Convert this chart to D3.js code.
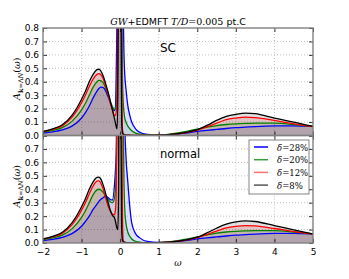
<!DOCTYPE html>
<html>
<head>
    <meta charset="utf-8">
    <script src="https://d3js.org/d3.v7.min.js"></script>
    <style>
        body { margin: 0; background: #fff; font-family: "DejaVu Sans", sans-serif; }
        .tick text { font: 9px "DejaVu Sans", sans-serif; fill: #000; }
        .tick line { stroke: #000; stroke-width: 0.8; }
        .grid line { stroke: #b0b0b0; stroke-width: 0.8; stroke-dasharray: 1,2; }
    </style>
</head>
<body>
<script>
// frequency grid (shared by every curve)
const omega = [-2, -1.75, -1.5, -1.25, -1.0,
    -0.9, -0.8, -0.7, -0.6, -0.55,
    -0.5, -0.45, -0.4, -0.35, -0.3,
    -0.25, -0.2, -0.15, -0.12, -0.1,
    -0.08, -0.06, -0.04, -0.02, 0,
    0.02, 0.04, 0.06, 0.08, 0.1,
    0.12, 0.15, 0.2, 0.25, 0.3,
    0.4, 0.5, 0.7, 1.0,
    1.5, 1.75, 2.0, 2.25, 2.5,
    2.75, 3.0, 3.25, 3.5, 4.0,
    4.5, 5.0];

// superconducting panel
const scBlue = [0.017, 0.027, 0.042, 0.07, 0.13,
    0.17, 0.22, 0.28, 0.33, 0.35,
    0.36, 0.358, 0.345, 0.315, 0.28,
    0.24, 0.205, 0.185, 0.22, 0.5,
    1.0, 2.5, 3, 3, 3,
    3, 2.5, 2.0, 1.0, 0.6,
    0.45, 0.35, 0.22, 0.15, 0.1,
    0.05, 0.025, 0.008, 0.003,
    0.012, 0.02, 0.03, 0.038, 0.045,
    0.052, 0.058, 0.062, 0.066, 0.071,
    0.072, 0.068];
const scGreen = [0.024, 0.038, 0.058, 0.105, 0.19,
    0.24, 0.3, 0.36, 0.40, 0.41,
    0.408, 0.395, 0.37, 0.335, 0.295,
    0.25, 0.215, 0.195, 0.2, 0.23,
    0.32, 0.6, 1.5, 3, 3,
    2.5, 1.2, 0.45, 0.25, 0.17,
    0.13, 0.1, 0.07, 0.05, 0.035,
    0.018, 0.01, 0.004, 0.004,
    0.02, 0.033, 0.048, 0.062, 0.074,
    0.082, 0.087, 0.09, 0.092, 0.092,
    0.082, 0.068];
const scRed = [0.028, 0.045, 0.072, 0.135, 0.245,
    0.3, 0.365, 0.42, 0.455, 0.46,
    0.452, 0.43, 0.39, 0.345, 0.295,
    0.24, 0.19, 0.15, 0.15, 0.18,
    0.3, 1.0, 3, 3, 3,
    2.5, 0.6, 0.05, 0.015, 0.008,
    0.005, 0.004, 0.003, 0.002, 0.002,
    0.001, 0.001, 0.001, 0.002,
    0.013, 0.024, 0.04, 0.065, 0.092,
    0.118, 0.13, 0.137, 0.133, 0.112,
    0.087, 0.067];
const scBlack = [0.03, 0.05, 0.08, 0.15, 0.27,
    0.33, 0.40, 0.455, 0.49, 0.493,
    0.48, 0.45, 0.41, 0.36, 0.31,
    0.25, 0.19, 0.13, 0.09, 0.065,
    0.05, 0.3, 1.5, 4, 4,
    1.0, 0.1, 0.02, 0.01, 0.005,
    0.004, 0.003, 0.002, 0.002, 0.001,
    0.001, 0.001, 0.001, 0.002,
    0.013, 0.025, 0.043, 0.075, 0.112,
    0.142, 0.158, 0.167, 0.163, 0.13,
    0.1, 0.067];

// normal panel
const nmBlue = [0.017, 0.027, 0.042, 0.07, 0.125,
    0.16, 0.2, 0.25, 0.29, 0.31,
    0.325, 0.335, 0.345, 0.345, 0.335,
    0.322, 0.32, 0.42, 0.55, 0.7,
    1.2, 2.5, 3, 3, 3,
    3, 3, 3, 2.5, 1.5,
    0.9, 0.65, 0.45, 0.27, 0.15,
    0.07, 0.04, 0.012, 0.004,
    0.012, 0.02, 0.03, 0.038, 0.045,
    0.052, 0.058, 0.062, 0.066, 0.071,
    0.072, 0.068];
const nmGreen = [0.024, 0.038, 0.058, 0.105, 0.19,
    0.24, 0.3, 0.36, 0.395, 0.40,
    0.395, 0.38, 0.36, 0.34, 0.32,
    0.305, 0.3, 0.33, 0.4, 0.55,
    1.0, 2.5, 3, 3, 3,
    3, 2.5, 1.5, 0.9, 0.45,
    0.25, 0.15, 0.08, 0.05, 0.03,
    0.013, 0.007, 0.003, 0.003,
    0.018, 0.03, 0.045, 0.06, 0.073,
    0.082, 0.087, 0.09, 0.092, 0.092,
    0.082, 0.068];
const nmRed = [0.028, 0.045, 0.072, 0.135, 0.245,
    0.3, 0.365, 0.425, 0.46, 0.462,
    0.445, 0.41, 0.36, 0.31, 0.265,
    0.235, 0.215, 0.21, 0.25, 0.4,
    1.2, 3, 3, 3, 3,
    3, 1.5, 0.2, 0.02, 0.01,
    0.005, 0.004, 0.003, 0.002, 0.002,
    0.001, 0.001, 0.001, 0.002,
    0.013, 0.024, 0.04, 0.063, 0.088,
    0.112, 0.124, 0.13, 0.127, 0.108,
    0.085, 0.067];
const nmBlack = [0.03, 0.05, 0.08, 0.15, 0.27,
    0.33, 0.40, 0.455, 0.488, 0.49,
    0.475, 0.44, 0.395, 0.34, 0.29,
    0.24, 0.205, 0.19, 0.16, 0.13,
    0.11, 0.1, 0.4, 2.5, 4,
    1.0, 0.1, 0.02, 0.01, 0.005,
    0.004, 0.003, 0.002, 0.002, 0.001,
    0.001, 0.001, 0.001, 0.002,
    0.013, 0.025, 0.043, 0.075, 0.11,
    0.14, 0.157, 0.164, 0.16, 0.13,
    0.098, 0.067];

const dopings = ["28%", "20%", "12%", "8%"];
const colors = ["#0000ff", "#008000", "#ff0000", "#000000"];
const legendColors = ["#0000ff", "#3a9a3a", "#ff7070", "#555555"];
const xTicks = [-2, -1, 0, 1, 2, 3, 4, 5];
const yTicks = [0, 0.1, 0.2, 0.3, 0.4, 0.5, 0.6, 0.7, 0.8];

const W = 349, H = 279;
const left = 43, right = 313;
const svg = d3.select("body").append("svg")
    .attr("width", W).attr("height", H);

const x = d3.scaleLinear().domain([-2, 5]).range([left, right]);

function drawPanel(id, top, bottom, series, label, showX, yLabels) {
    const y = d3.scaleLinear().domain([0, 0.8]).range([bottom, top]);
    const g = svg.append("g");

    svg.append("clipPath").attr("id", id)
        .append("rect").attr("x", left).attr("y", top)
        .attr("width", right - left).attr("height", bottom - top);

    // grid
    const grid = g.append("g").attr("class", "grid");
    grid.selectAll("line.v").data(xTicks.slice(1, -1)).enter().append("line")
        .attr("x1", d => x(d)).attr("x2", d => x(d))
        .attr("y1", top).attr("y2", bottom);
    grid.selectAll("line.h").data(yTicks.slice(1, -1)).enter().append("line")
        .attr("x1", left).attr("x2", right)
        .attr("y1", d => y(d)).attr("y2", d => y(d));

    const area = d3.area().curve(d3.curveMonotoneX)
        .x((d, i) => x(omega[i])).y0(y(0)).y1(d => y(d));
    const line = d3.line().curve(d3.curveMonotoneX)
        .x((d, i) => x(omega[i])).y(d => y(d));

    const plot = g.append("g").attr("clip-path", `url(#${id})`);
    series.forEach((s, k) => {
        plot.append("path").attr("d", area(s))
            .attr("fill", colors[k]).attr("fill-opacity", 0.12);
    });
    series.forEach((s, k) => {
        plot.append("path").attr("d", line(s))
            .attr("fill", "none").attr("stroke", colors[k])
            .attr("stroke-width", 1.3);
    });

    // ticks (inward, all four sides)
    const la = g.append("g").attr("transform", `translate(${left},0)`)
        .call(d3.axisLeft(y).tickValues(yTicks).tickSize(-4).tickPadding(4)
            .tickFormat(d => yLabels.includes(d) ? d3.format(".1f")(d) : ""));
    g.append("g").attr("transform", `translate(${right},0)`)
        .call(d3.axisRight(y).tickValues(yTicks).tickSize(-4).tickFormat(""));
    const ba = g.append("g").attr("transform", `translate(0,${bottom})`)
        .call(d3.axisBottom(x).tickValues(xTicks).tickSize(-4).tickPadding(6)
            .tickFormat(showX ? d3.format("d") : ""));
    g.append("g").attr("transform", `translate(0,${top})`)
        .call(d3.axisTop(x).tickValues(xTicks).tickSize(-4).tickFormat(""));
    g.selectAll(".domain").remove();

    g.append("rect").attr("x", left).attr("y", top)
        .attr("width", right - left).attr("height", bottom - top)
        .attr("fill", "none").attr("stroke", "#808080").attr("stroke-width", 1.4);

    g.append("text").attr("x", 160).attr("y", label.y)
        .style("font", `${label.size}px 'DejaVu Sans', sans-serif`)
        .text(label.text);

    // y axis label
    const t = g.append("text")
        .attr("transform", `translate(20,${(top + bottom) / 2 - 3}) rotate(-90)`)
        .attr("text-anchor", "middle")
        .style("font-family", "'DejaVu Serif', serif").style("font-size", "9.5px");
    t.append("tspan").style("font-style", "italic").text("A");
    t.append("tspan").attr("dy", 2.5).style("font-size", "6.5px")
        .style("font-weight", "bold").text("k");
    t.append("tspan").style("font-size", "6.5px").text("=Λ");
    t.append("tspan").style("font-size", "6.5px").style("font-style", "italic").text("N");
    t.append("tspan").attr("dy", -2.5).text("(");
    t.append("tspan").style("font-style", "italic").text("ω");
    t.append("tspan").text(")");
    return y;
}

drawPanel("clipSC", 28, 135.5, [scBlue, scGreen, scRed, scBlack],
    { text: "SC", y: 52, size: 12 }, false, yTicks);
drawPanel("clipNM", 135.5, 243, [nmBlue, nmGreen, nmRed, nmBlack],
    { text: "normal", y: 158, size: 11.5 }, true, yTicks.slice(0, -1));

// title
const title = svg.append("text").attr("x", (left + right) / 2).attr("y", 25)
    .attr("text-anchor", "middle").style("font-size", "9.5px");
title.append("tspan").style("font-family", "'DejaVu Serif', serif")
    .style("font-style", "italic").text("GW");
title.append("tspan").style("font-family", "'DejaVu Sans', sans-serif").text("+EDMFT ");
title.append("tspan").style("font-family", "'DejaVu Serif', serif")
    .style("font-style", "italic").text("T/D");
title.append("tspan").style("font-family", "'DejaVu Serif', serif").text("=0.005");
title.append("tspan").style("font-family", "'DejaVu Sans', sans-serif").text(" pt.C");

// x label
svg.append("text").attr("x", (left + right) / 2).attr("y", 266)
    .attr("text-anchor", "middle")
    .style("font", "italic 9px 'DejaVu Serif', serif").text("ω");

// legend
const lg = svg.append("g");
lg.append("rect").attr("x", 249).attr("y", 140).attr("width", 60).attr("height", 54)
    .attr("fill", "#fff").attr("stroke", "#666").attr("stroke-width", 0.8);
dopings.forEach((d, i) => {
    const yy = 147 + i * 12.7;
    lg.append("line").attr("x1", 254).attr("x2", 268).attr("y1", yy).attr("y2", yy)
        .attr("stroke", legendColors[i]).attr("stroke-width", 1.5);
    const tx = lg.append("text").attr("x", 277).attr("y", yy + 3.5)
        .style("font-family", "'DejaVu Serif', serif").style("font-size", "8.5px");
    tx.append("tspan").style("font-style", "italic").text("δ");
    tx.append("tspan").text("=" + d);
});
</script>
</body>
</html>
